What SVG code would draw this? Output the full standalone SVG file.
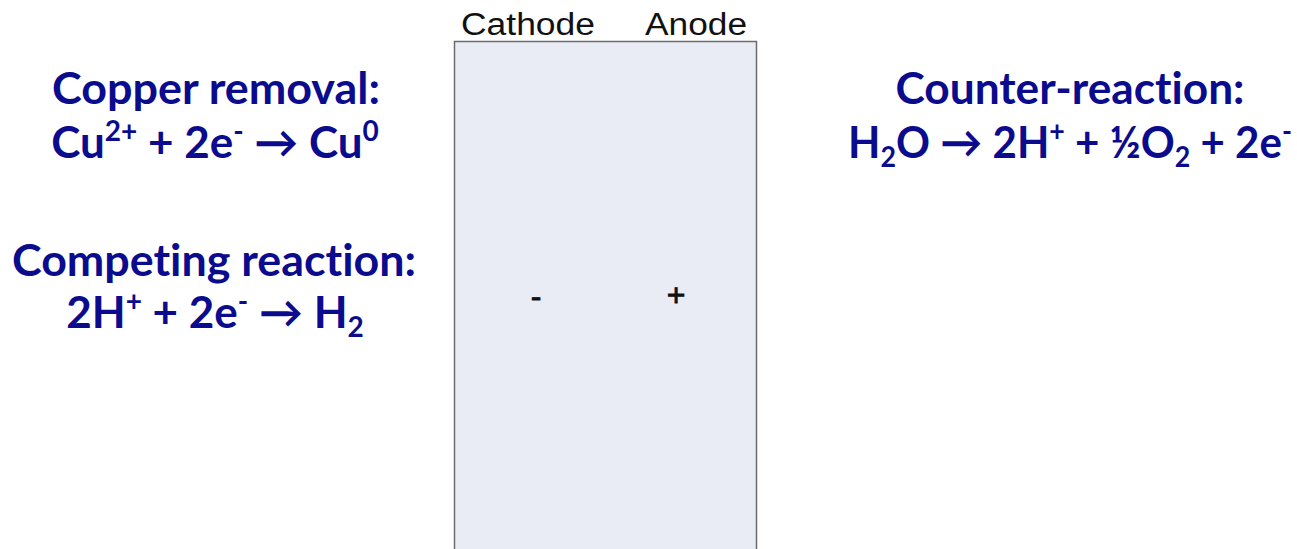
<svg xmlns="http://www.w3.org/2000/svg" width="1297" height="549" viewBox="0 0 1297 549">
<style>
.eq{font-family:Lato,"Open Sans","Liberation Sans",sans-serif;font-weight:bold;font-size:44px;fill:#0B0B8E;text-anchor:middle;font-variant-ligatures:none}
.sm{font-size:28px}
.lab{font-family:"Liberation Sans",Arial,sans-serif;font-size:31px;fill:#111}
.sign{font-family:"Liberation Sans",Arial,sans-serif;font-size:32px;fill:#111;text-anchor:middle;stroke:#111;stroke-width:0.8}
</style>
<rect width="1297" height="549" fill="#fff"/>
<g id="cell">
<rect x="454.5" y="41.5" width="302" height="520" fill="#E9ECF5" stroke="#6b6b6b" stroke-width="1.5"/>
<text class="lab" x="461" y="35" textLength="134" lengthAdjust="spacingAndGlyphs">Cathode</text>
<text class="lab" x="645" y="35" textLength="102" lengthAdjust="spacingAndGlyphs">Anode</text>
<text class="sign" x="536" y="307">-</text>
<text class="sign" x="676" y="306">+</text>
</g>
<g id="copper">
<text class="eq" x="216" y="104" textLength="328" lengthAdjust="spacingAndGlyphs">Copper removal:</text>
<text class="eq" x="215" y="158">Cu<tspan class="sm" dy="-17">2+</tspan><tspan dy="17"> + 2e</tspan><tspan class="sm" dy="-17">-</tspan><tspan dy="17"> → Cu</tspan><tspan class="sm" dy="-17">0</tspan></text>
</g>
<g id="competing">
<text class="eq" x="214" y="276" textLength="404" lengthAdjust="spacingAndGlyphs">Competing reaction:</text>
<text class="eq" x="215" y="328">2H<tspan class="sm" dy="-17">+</tspan><tspan dy="17"> + 2e</tspan><tspan class="sm" dy="-17">-</tspan><tspan dy="17"> → H</tspan><tspan class="sm" dy="9">2</tspan></text>
</g>
<g id="counter">
<text class="eq" x="1070" y="104" textLength="349" lengthAdjust="spacingAndGlyphs">Counter-reaction:</text>
<text class="eq" x="848" y="158" style="text-anchor:start" textLength="444" lengthAdjust="spacingAndGlyphs">H<tspan class="sm" dy="9">2</tspan><tspan dy="-9">O → 2H</tspan><tspan class="sm" dy="-17">+</tspan><tspan dy="17"> + ½O</tspan><tspan class="sm" dy="9">2</tspan><tspan dy="-9"> + 2e</tspan><tspan class="sm" dy="-17">-</tspan></text>
</g>
<g id="connectors"/>
</svg>
